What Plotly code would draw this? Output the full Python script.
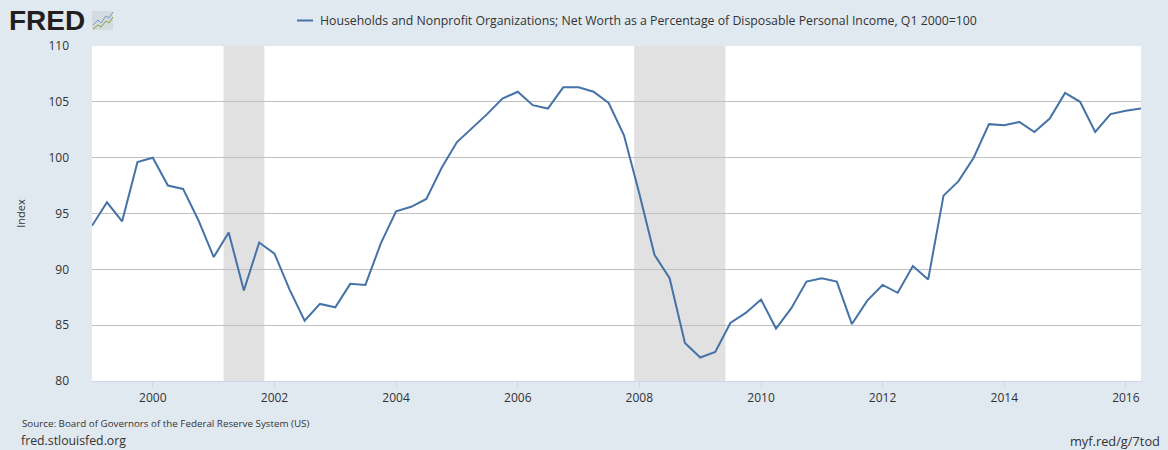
import plotly.graph_objects as go
import pandas as pd

# quarterly index, Q1 2000 = 100, 1999Q1 .. 2016Q2
dates = pd.date_range("1999-01-01", "2016-04-01", freq="QS")
values = [
    93.9, 96.0, 94.3, 99.6,
    100.0, 97.5, 97.2, 94.4,
    91.1, 93.3, 88.1, 92.4,
    91.4, 88.2, 85.4, 86.9,
    86.6, 88.7, 88.6, 92.3,
    95.2, 95.6, 96.3, 99.1,
    101.4, 102.6, 103.9, 105.3,
    105.9, 104.7, 104.4, 106.3,
    106.3, 105.9, 104.9, 102.0,
    96.8, 91.3, 89.2, 83.4,
    82.1, 82.6, 85.2, 86.1,
    87.3, 84.7, 86.5, 88.9,
    89.2, 88.9, 85.1, 87.2,
    88.6, 87.9, 90.3, 89.1,
    96.6, 97.9, 100.0, 103.0,
    102.9, 103.2, 102.3, 103.5,
    105.8, 105.0, 102.3, 103.9,
    104.2, 104.4,
]
recession_start = ["2001-03-01", "2007-12-01"]
recession_end = ["2001-11-01", "2009-06-01"]

series_name = ("Households and Nonprofit Organizations; Net Worth as a Percentage "
               "of Disposable Personal Income, Q1 2000=100")

W, H = 1168, 450
ML, MR, MT, MB = 92, 27, 46, 69
PW, PH = W - ML - MR, H - MT - MB


# pixel -> paper (plot-area) coordinates, for decorations outside the plot
def px(x):
    return (x - ML) / PW


def py(y):
    return (H - MB - y) / PH


LINE = "#4572a7"
TEXT = "#333333"

fig = go.Figure()
fig.add_trace(go.Scatter(
    x=dates, y=values, mode="lines", name=series_name,
    line=dict(color=LINE, width=2), showlegend=False,
))

for s, e in zip(recession_start, recession_end):
    fig.add_vrect(x0=s, x1=e, fillcolor="#e1e1e1", opacity=1, line_width=0, layer="below")

fig.update_layout(
    width=W, height=H,
    margin=dict(l=ML, r=MR, t=MT, b=MB),
    paper_bgcolor="#e1e9f0",
    plot_bgcolor="#ffffff",
    font=dict(family="Open Sans, sans-serif", size=12, color=TEXT),
    showlegend=False,
)
fig.update_xaxes(
    range=["1999-01-01", "2016-04-01"], showgrid=False, automargin=False,
    tickformat="%Y", dtick="M24", tick0="2000-01-01",
    ticks="outside", ticklen=6, tickcolor="#ccd6eb",
    showline=True, linecolor="#ccd6eb", linewidth=1,
    tickfont=dict(size=12, color=TEXT),
)
fig.update_yaxes(
    range=[80, 110], dtick=5, showgrid=True, gridcolor="#c0c0c0", gridwidth=1,
    zeroline=False, ticks="", ticklabelstandoff=22, automargin=False,
    title=dict(text="Index", font=dict(size=11, color=TEXT), standoff=20),
    tickfont=dict(size=12, color=TEXT),
)

# legend entry drawn by hand so it sits where FRED puts it
fig.add_shape(type="line", xref="paper", yref="paper",
              x0=px(297), x1=px(313), y0=py(20.5), y1=py(20.5),
              line=dict(color=LINE, width=2))
fig.add_annotation(text=series_name, xref="paper", yref="paper", x=px(318), y=py(20.5),
                   xanchor="left", yanchor="middle", showarrow=False,
                   font=dict(size=12.3, color=TEXT))

# FRED logo
fig.add_annotation(text="<b>FRED</b>", xref="paper", yref="paper", x=px(7), y=py(20.5),
                   xanchor="left", yanchor="middle", showarrow=False,
                   font=dict(family="Liberation Sans, Arial", size=28, color="#231f20"))
fig.add_shape(type="rect", xref="paper", yref="paper",
              x0=px(92), x1=px(113), y0=py(30), y1=py(11),
              fillcolor="#d4dade", line=dict(width=0))
fig.add_shape(type="path", xref="paper", yref="paper",
              path=f"M {px(93)},{py(25)} L {px(98)},{py(20)} L {px(101)},{py(23)} "
                   f"L {px(106)},{py(16)} L {px(109)},{py(18)} L {px(113)},{py(12)}",
              line=dict(color="#6f9cc6", width=1))
fig.add_shape(type="path", xref="paper", yref="paper",
              path=f"M {px(93)},{py(29)} L {px(98)},{py(25)} L {px(101)},{py(27)} "
                   f"L {px(106)},{py(21)} L {px(109)},{py(23)} L {px(113)},{py(17)}",
              line=dict(color="#7ea83a", width=1))

# footer
fig.add_annotation(text="Source: Board of Governors of the Federal Reserve System (US)",
                   xref="paper", yref="paper", x=px(20), y=py(423),
                   xanchor="left", yanchor="middle", showarrow=False,
                   font=dict(size=9.8, color=TEXT))
fig.add_annotation(text="fred.stlouisfed.org", xref="paper", yref="paper", x=px(19), y=py(440.5),
                   xanchor="left", yanchor="middle", showarrow=False,
                   font=dict(size=12.3, color=TEXT))
fig.add_annotation(text="myf.red/g/7tod", xref="paper", yref="paper", x=px(1162), y=py(440.5),
                   xanchor="right", yanchor="middle", showarrow=False,
                   font=dict(size=12.8, color=TEXT))

fig.write_html("out.html", config={"displayModeBar": False},
               post_script="document.body.style.margin='0';"
                           "document.body.style.background='#e1e9f0';")
